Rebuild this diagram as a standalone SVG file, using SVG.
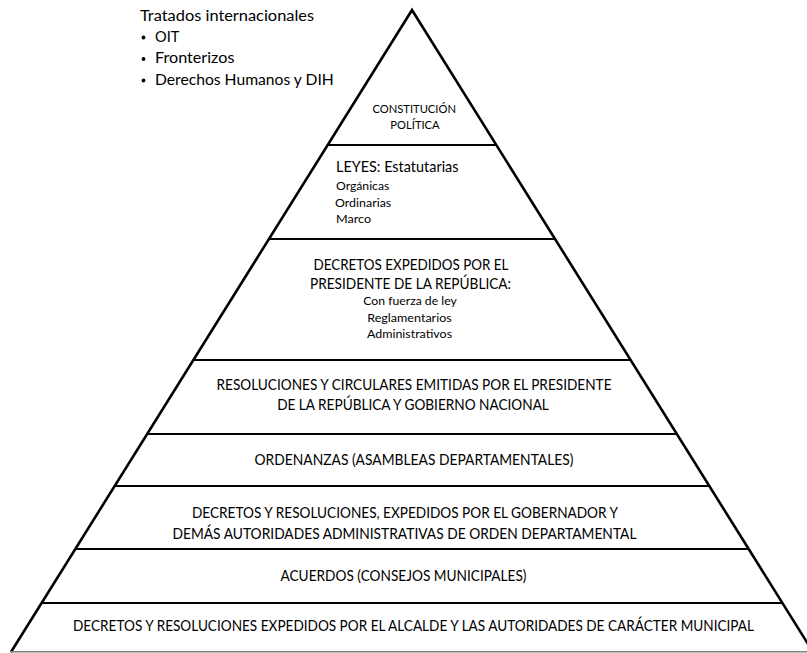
<svg xmlns="http://www.w3.org/2000/svg" width="807" height="653" viewBox="0 0 807 653">
<style>
text{font-family:Lato,"Liberation Sans","DejaVu Sans",sans-serif;fill:#000}
.b{font-size:14.4px}
.s{font-size:12px}
.h{font-size:15.6px}
.c{text-anchor:middle}
.sep{stroke:#000;stroke-width:2;fill:none}
.edge{stroke:#000;stroke-width:2.6;fill:none;stroke-linejoin:miter}
</style>
<rect width="807" height="653" fill="#fff"/>
<g id="outline">
<polyline class="edge" points="11,652 412,10 813,652"/>
<line x1="10" y1="651.7" x2="807" y2="651.7" stroke="#808080" stroke-width="1.6"/>
</g>
<g id="separators">
<line class="sep" x1="327.7" y1="145" x2="496.3" y2="145"/>
<line class="sep" x1="269" y1="239" x2="555" y2="239"/>
<line class="sep" x1="193.4" y1="360" x2="630.6" y2="360"/>
<line class="sep" x1="147.2" y1="434" x2="676.8" y2="434"/>
<line class="sep" x1="114.7" y1="486" x2="709.3" y2="486"/>
<line class="sep" x1="75.3" y1="549" x2="748.7" y2="549"/>
<line class="sep" x1="41.6" y1="603" x2="782.4" y2="603"/>
</g>
<g id="tratados">
<text class="h" x="140" y="20.7" textLength="174" lengthAdjust="spacingAndGlyphs">Tratados internacionales</text>
<circle cx="143.5" cy="37.5" r="1.9"/>
<text class="h" x="155" y="41.7" textLength="24.3" lengthAdjust="spacingAndGlyphs">OIT</text>
<circle cx="143.5" cy="59" r="1.9"/>
<text class="h" x="155" y="63.3" textLength="79.4" lengthAdjust="spacingAndGlyphs">Fronterizos</text>
<circle cx="143.5" cy="80.5" r="1.9"/>
<text class="h" x="155" y="84.8" textLength="178.8" lengthAdjust="spacingAndGlyphs">Derechos Humanos y DIH</text>
</g>
<g id="constitucion">
<text class="s c" x="414.2" y="113.3" textLength="83.5" lengthAdjust="spacingAndGlyphs">CONSTITUCIÓN</text>
<text class="s c" x="415" y="129.3" textLength="49.3" lengthAdjust="spacingAndGlyphs">POLÍTICA</text>
</g>
<g id="leyes">
<text class="b" x="336" y="171.5" textLength="122.5" lengthAdjust="spacingAndGlyphs">LEYES: Estatutarias</text>
<text class="s" x="336" y="190" textLength="53.3" lengthAdjust="spacingAndGlyphs">Orgánicas</text>
<text class="s" x="335" y="206.5" textLength="56.2" lengthAdjust="spacingAndGlyphs">Ordinarias</text>
<text class="s" x="336" y="223" textLength="35.1" lengthAdjust="spacingAndGlyphs">Marco</text>
</g>
<g id="decretos-presidente">
<text class="b c" x="411" y="270" textLength="195" lengthAdjust="spacingAndGlyphs">DECRETOS EXPEDIDOS POR EL</text>
<text class="b c" x="410.5" y="289.3" textLength="201" lengthAdjust="spacingAndGlyphs">PRESIDENTE DE LA REPÚBLICA:</text>
<text class="s c" x="410" y="304.5" textLength="93.5" lengthAdjust="spacingAndGlyphs">Con fuerza de ley</text>
<text class="s c" x="409.5" y="321.5" textLength="84.5" lengthAdjust="spacingAndGlyphs">Reglamentarios</text>
<text class="s c" x="409.5" y="338" textLength="85.1" lengthAdjust="spacingAndGlyphs">Administrativos</text>
</g>
<g id="resoluciones">
<text class="b c" x="414" y="390" textLength="395" lengthAdjust="spacingAndGlyphs">RESOLUCIONES Y CIRCULARES EMITIDAS POR EL PRESIDENTE</text>
<text class="b c" x="413" y="410" textLength="271.7" lengthAdjust="spacingAndGlyphs">DE LA REPÚBLICA Y GOBIERNO NACIONAL</text>
</g>
<g id="ordenanzas">
<text class="b c" x="414" y="465" textLength="319" lengthAdjust="spacingAndGlyphs">ORDENANZAS (ASAMBLEAS DEPARTAMENTALES)</text>
</g>
<g id="decretos-gobernador">
<text class="b c" x="405" y="518" textLength="426" lengthAdjust="spacingAndGlyphs">DECRETOS Y RESOLUCIONES, EXPEDIDOS POR EL GOBERNADOR Y</text>
<text class="b c" x="404.5" y="539" textLength="464" lengthAdjust="spacingAndGlyphs">DEMÁS AUTORIDADES ADMINISTRATIVAS DE ORDEN DEPARTAMENTAL</text>
</g>
<g id="acuerdos">
<text class="b c" x="403.5" y="581" textLength="246" lengthAdjust="spacingAndGlyphs">ACUERDOS (CONSEJOS MUNICIPALES)</text>
</g>
<g id="decretos-alcalde">
<text class="b c" x="413.5" y="630.5" textLength="681" lengthAdjust="spacingAndGlyphs">DECRETOS Y RESOLUCIONES EXPEDIDOS POR EL ALCALDE Y LAS AUTORIDADES DE CARÁCTER MUNICIPAL</text>
</g>
</svg>
